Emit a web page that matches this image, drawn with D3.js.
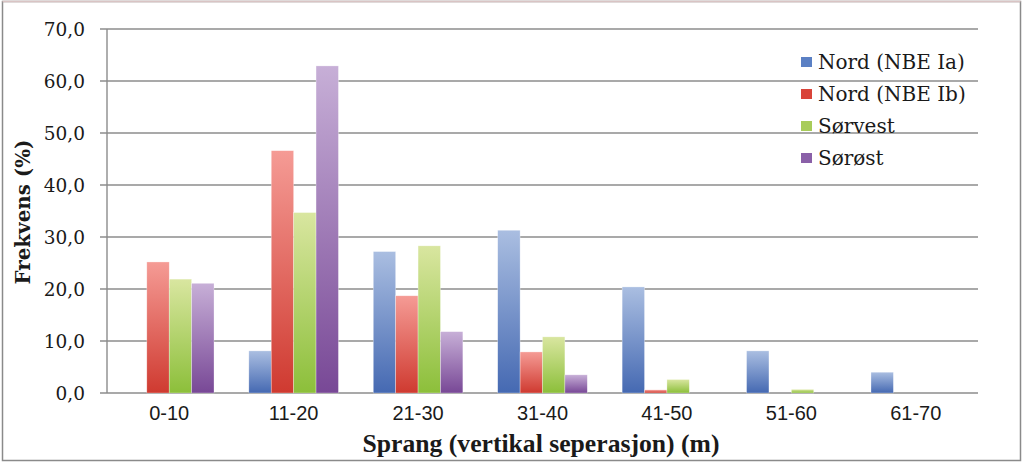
<!DOCTYPE html>
<html>
<head>
<meta charset="utf-8">
<script src="https://cdn.jsdelivr.net/npm/d3@7"></script>
<style>
  html, body { margin: 0; padding: 0; background: #fff; }
  svg { display: block; }
</style>
</head>
<body>
<svg id="chart" width="1024" height="463"></svg>
<script>
const categories = ["0-10", "11-20", "21-30", "31-40", "41-50", "51-60", "61-70"];
const seriesNames = ["Nord (NBE Ia)", "Nord (NBE Ib)", "Sørvest", "Sørøst"];
const nordIa  = [0, 8.1, 27.2, 31.3, 20.4, 8.1, 4.0];
const nordIb  = [25.2, 46.6, 18.7, 7.9, 0.6, 0, 0];
const sorvest = [21.9, 34.7, 28.3, 10.8, 2.6, 0.7, 0];
const sorost  = [21.1, 62.9, 11.8, 3.5, 0, 0, 0];
const yTicks = [0, 10, 20, 30, 40, 50, 60, 70];
const yTickLabels = ["0,0", "10,0", "20,0", "30,0", "40,0", "50,0", "60,0", "70,0"];
const yTitle = "Frekvens (%)";
const xTitle = "Sprang (vertikal seperasjon) (m)";

const seriesValues = [nordIa, nordIb, sorvest, sorost];
const colorsTop = ["#aabee1", "#f59b95", "#d9e6a0", "#c7afd7"];
const colorsBottom = ["#4569b2", "#cf3a30", "#8cbf3a", "#784896"];
const legendColors = ["#5b80c4", "#d9443a", "#a8cc5a", "#8a60a8"];

const svg = d3.select("#chart");

// Outer frame
svg.append("rect").attr("x", 2.5).attr("y", 1.5).attr("width", 1018).attr("height", 459)
  .attr("fill", "#fff").attr("stroke", "#8a8a8a").attr("stroke-width", 1.5);
svg.append("line").attr("x1", 2.5).attr("x2", 1020.5).attr("y1", 1.5).attr("y2", 1.5)
  .attr("stroke", "#d9c4c4").attr("stroke-width", 1.5);

const plotLeft = 107, plotRight = 978, plotTop = 29, plotBottom = 393;

const x = d3.scaleBand().domain(categories).range([plotLeft, plotRight])
  .paddingInner(0.28).paddingOuter(0.14);
const xs = d3.scaleBand().domain(d3.range(seriesNames.length)).range([0, x.bandwidth()]).padding(0);
const y = d3.scaleLinear().domain([0, 70]).range([plotBottom, plotTop]);

// Gradients
const defs = svg.append("defs");
seriesNames.forEach((s, i) => {
  const g = defs.append("linearGradient").attr("id", "grad" + i)
    .attr("x1", 0).attr("y1", 0).attr("x2", 0).attr("y2", 1);
  g.append("stop").attr("offset", "0%").attr("stop-color", colorsTop[i]);
  g.append("stop").attr("offset", "100%").attr("stop-color", colorsBottom[i]);
});

// Gridlines
svg.append("g").selectAll("line").data(yTicks).join("line")
  .attr("x1", plotLeft - 7).attr("x2", plotRight)
  .attr("y1", d => y(d)).attr("y2", d => y(d))
  .attr("stroke", "#8c8c8c").attr("stroke-width", 1.4);

// Y axis line
svg.append("line").attr("x1", plotLeft).attr("x2", plotLeft)
  .attr("y1", y(70)).attr("y2", y(0))
  .attr("stroke", "#8c8c8c").attr("stroke-width", 1.4);

// Y tick labels
svg.append("g").selectAll("text").data(yTicks).join("text")
  .attr("x", 85).attr("y", d => y(d)).attr("dy", "0.36em")
  .attr("text-anchor", "end")
  .attr("font-family", "'DejaVu Serif', serif").attr("font-size", 18.5).attr("fill", "#1a1a1a")
  .text((d, i) => yTickLabels[i]);

// Bars
const groups = svg.append("g").selectAll("g").data(categories).join("g")
  .attr("transform", d => `translate(${x(d)},0)`);
groups.selectAll("rect")
  .data((c, ci) => seriesValues.map((vals, si) => ({ si, v: vals[ci] })))
  .join("rect")
  .attr("x", d => xs(d.si))
  .attr("width", xs.bandwidth())
  .attr("y", d => y(d.v))
  .attr("height", d => y(0) - y(d.v))
  .attr("fill", d => `url(#grad${d.si})`)
  .attr("stroke", "rgba(255,255,255,0.5)").attr("stroke-width", 0.6);

// X tick labels
svg.append("g").selectAll("text").data(categories).join("text")
  .attr("x", d => x(d) + x.bandwidth() / 2).attr("y", 413).attr("dy", "0.36em")
  .attr("text-anchor", "middle")
  .attr("font-family", "'Liberation Sans', Arial, sans-serif")
  .attr("font-size", 20).attr("fill", "#1a1a1a")
  .text(d => d);

// Axis titles
svg.append("text").attr("x", 541).attr("y", 443).attr("dy", "0.36em")
  .attr("text-anchor", "middle")
  .attr("font-family", "'Liberation Serif', serif").attr("font-weight", "bold")
  .attr("font-size", 26).attr("fill", "#1a1a1a")
  .attr("textLength", 357).attr("lengthAdjust", "spacingAndGlyphs")
  .text(xTitle);

svg.append("text").attr("transform", "translate(22,212) rotate(-90)")
  .attr("dy", "0.36em").attr("text-anchor", "middle")
  .attr("font-family", "'DejaVu Serif', serif").attr("font-weight", "bold")
  .attr("font-size", 21).attr("fill", "#1a1a1a")
  .attr("textLength", 145).attr("lengthAdjust", "spacingAndGlyphs")
  .text(yTitle);

// Legend
const legend = svg.append("g").attr("transform", "translate(801,62)");
const li = legend.selectAll("g").data(seriesNames).join("g")
  .attr("transform", (d, i) => `translate(0,${i * 32})`);
li.append("rect").attr("x", 0).attr("y", -5).attr("width", 11).attr("height", 10)
  .attr("fill", (d, i) => legendColors[i]);
li.append("text").attr("x", 17).attr("y", 0).attr("dy", "0.36em")
  .attr("font-family", "'DejaVu Serif', serif").attr("font-size", 20).attr("fill", "#1a1a1a")
  .text(d => d);
</script>
</body>
</html>
